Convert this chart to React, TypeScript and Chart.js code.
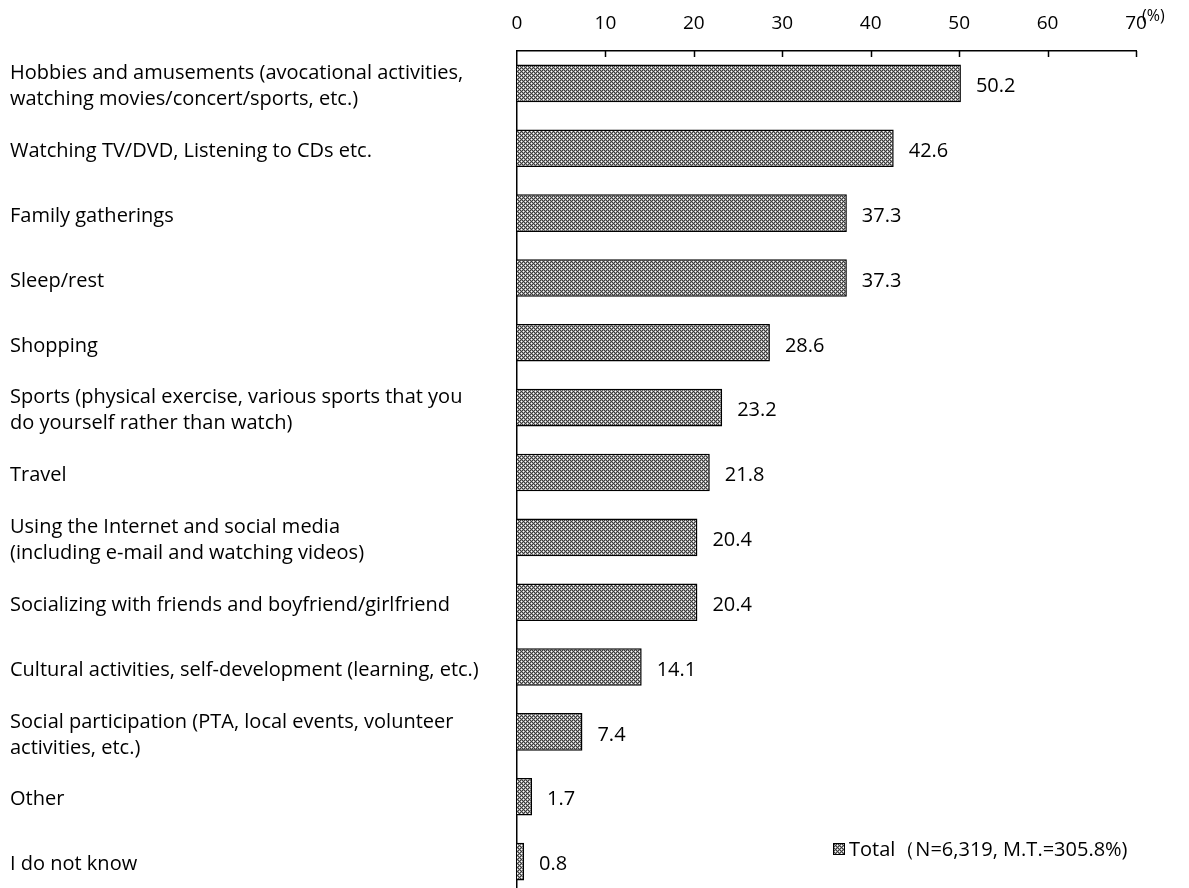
import { useEffect, useRef } from 'react';
import { Chart, registerables } from 'chart.js';

Chart.register(...registerables);

const categories: (string | string[])[] = [
  ['Hobbies and amusements (avocational activities,', 'watching movies/concert/sports, etc.)'],
  'Watching TV/DVD, Listening to CDs etc.',
  'Family gatherings',
  'Sleep/rest',
  'Shopping',
  ['Sports (physical exercise, various sports that you', 'do yourself rather than watch)'],
  'Travel',
  ['Using the Internet and social media', '(including e-mail and watching videos)'],
  'Socializing with friends and boyfriend/girlfriend',
  'Cultural activities, self-development (learning, etc.)',
  ['Social participation (PTA, local events, volunteer', 'activities, etc.)'],
  'Other',
  'I do not know',
];

const values = [50.2, 42.6, 37.3, 37.3, 28.6, 23.2, 21.8, 20.4, 20.4, 14.1, 7.4, 1.7, 0.8];

const xTicks = [0, 10, 20, 30, 40, 50, 60, 70];
const seriesName = 'Total';
const legendLabel = 'Total（N=6,319, M.T.=305.8%)';
const unitLabel = '(%)';

const FONT = "'Open Sans', 'Noto Sans', sans-serif";

function makePattern(ctx: CanvasRenderingContext2D): CanvasPattern | string {
  const tile = document.createElement('canvas');
  tile.width = 4;
  tile.height = 4;
  const t = tile.getContext('2d');
  if (!t) return '#999';
  for (let y = 0; y < 4; y++) {
    for (let x = 0; x < 4; x++) {
      let c = (x + y) % 2 === 0 ? '#3a3a3a' : '#a0a0a0';
      if ((x === 1 && y === 1) || (x === 3 && y === 3)) c = '#ffffff';
      t.fillStyle = c;
      t.fillRect(x, y, 1, 1);
    }
  }
  return ctx.createPattern(tile, 'repeat') || '#999';
}

export default function App() {
  const ref = useRef<HTMLCanvasElement>(null);

  useEffect(() => {
    const canvas = ref.current;
    if (!canvas) return;
    const ctx0 = canvas.getContext('2d')!;
    const pattern = makePattern(ctx0);

    const overlay = {
      id: 'overlay',
      afterDraw(chart: any) {
        const ctx: CanvasRenderingContext2D = chart.ctx;
        const xs = chart.scales.x;
        const area = chart.chartArea;
        ctx.save();
        // inside tick marks
        ctx.strokeStyle = '#000';
        ctx.lineWidth = 1.5;
        xTicks.forEach((v) => {
          if (v === 0) return;
          const px = Math.round(xs.getPixelForValue(v)) + 0.5;
          ctx.beginPath();
          ctx.moveTo(px, area.top);
          ctx.lineTo(px, area.top + 6);
          ctx.stroke();
        });
        // value labels
        const meta = chart.getDatasetMeta(0);
        ctx.fillStyle = '#000';
        ctx.font = `20px ${FONT}`;
        ctx.textAlign = 'left';
        ctx.textBaseline = 'middle';
        meta.data.forEach((bar: any, i: number) => {
          ctx.fillText(values[i].toFixed(1), bar.x + 15, bar.y + 3);
        });
        // unit label
        ctx.font = `16px ${FONT}`;
        ctx.textBaseline = 'middle';
        ctx.fillText(unitLabel, xs.getPixelForValue(70) + 6, 16);
        // legend
        const lx = 833;
        const ly = 843;
        ctx.fillStyle = pattern as any;
        ctx.fillRect(lx, ly, 12, 12);
        ctx.lineWidth = 1;
        ctx.strokeStyle = '#000';
        ctx.strokeRect(lx + 0.5, ly + 0.5, 11, 11);
        ctx.fillStyle = '#000';
        ctx.font = `20px ${FONT}`;
        ctx.fillText(legendLabel, lx + 16, ly + 7);
        ctx.restore();
      },
    };

    const chart = new Chart(canvas, {
      type: 'bar',
      data: {
        labels: categories,
        datasets: [
          {
            label: seriesName,
            data: values,
            backgroundColor: pattern as any,
            borderColor: '#000',
            borderWidth: 1.5,
            barPercentage: 0.58,
            categoryPercentage: 1,
          },
        ],
      },
      options: {
        indexAxis: 'y',
        animation: false,
        responsive: true,
        maintainAspectRatio: false,
        layout: { padding: { left: 10, right: 53, top: 0, bottom: 21 } },
        plugins: { legend: { display: false }, tooltip: { enabled: false } },
        scales: {
          x: {
            position: 'top',
            min: 0,
            max: 70,
            ticks: { stepSize: 10, color: '#000', font: { family: FONT, size: 19 }, padding: 16 },
            grid: { display: false, drawTicks: false },
            border: { display: true, color: '#000', width: 1.5 },
            afterFit(s: any) {
              s.height = 51;
            },
          },
          y: {
            ticks: {
              crossAlign: 'far',
              color: '#000',
              font: { family: FONT, size: 20, lineHeight: 1.3 },
              padding: 0,
              labelOffset: 3,
              autoSkip: false,
            },
            grid: { display: false, drawTicks: false },
            border: { display: true, color: '#000', width: 1.5 },
            afterFit(s: any) {
              s.width = 507;
            },
          },
        },
      },
      plugins: [overlay],
    });
    return () => chart.destroy();
  }, []);

  return (
    <div style={{ position: 'fixed', left: 0, top: 0, width: 1189, height: 920, background: '#fff' }}>
      <canvas ref={ref} />
    </div>
  );
}
